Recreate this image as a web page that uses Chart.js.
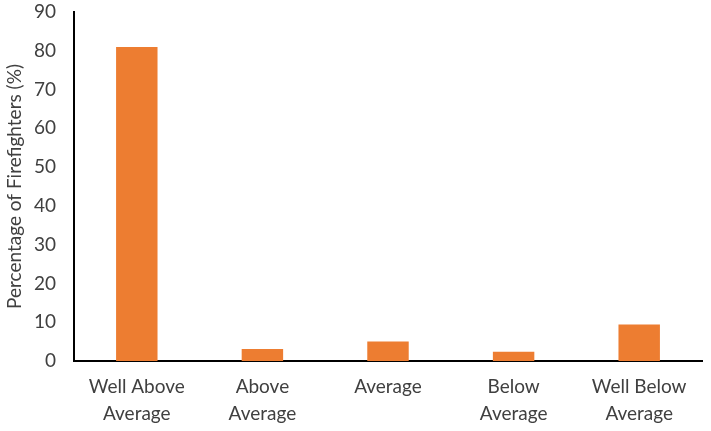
<!DOCTYPE html>
<html>
<head>
<meta charset="utf-8">
<script src="https://cdn.jsdelivr.net/npm/chart.js@4/dist/chart.umd.min.js"></script>
<style>
  html, body { margin: 0; padding: 0; background: #fff; }
  #wrap { width: 711px; height: 431px; position: relative; }
</style>
</head>
<body>
<div id="wrap"><canvas id="chart"></canvas></div>
<script>
// Data
const categories = [['Well Above', 'Average'], ['Above', 'Average'], 'Average', ['Below', 'Average'], ['Well Below', 'Average']];
const percentages = [81, 3.1, 5.0, 2.4, 9.4];
const yTitle = 'Percentage of Firefighters (%)';

const textColor = '#404040';
const fontFamily = 'Lato, "Open Sans", sans-serif';

new Chart(document.getElementById('chart'), {
    type: 'bar',
    data: {
        labels: categories,
        datasets: [{
            data: percentages,
            backgroundColor: '#ED7D31',
            barPercentage: 0.33,
            categoryPercentage: 1
        }]
    },
    options: {
        responsive: true,
        maintainAspectRatio: false,
        animation: false,
        layout: { padding: { top: 0, right: 9, left: 0, bottom: 0 } },
        plugins: {
            legend: { display: false },
            tooltip: { enabled: false }
        },
        scales: {
            x: {
                grid: { display: false },
                border: { display: true, color: '#000', width: 2 },
                ticks: {
                    color: textColor,
                    font: { family: fontFamily, size: 19, lineHeight: 1.4 },
                    padding: 5,
                    maxRotation: 0,
                    autoSkip: false
                },
                afterFit: (scale) => { scale.height = 70; }
            },
            y: {
                min: 0,
                max: 90,
                grid: { display: false },
                border: { display: true, color: '#000', width: 2 },
                ticks: {
                    stepSize: 10,
                    color: textColor,
                    font: { family: fontFamily, size: 19 },
                    padding: 10
                },
                title: {
                    display: true,
                    text: yTitle,
                    color: textColor,
                    font: { family: fontFamily, size: 19 },
                    padding: { top: 3, bottom: 0 }
                },
                afterFit: (scale) => {
                    scale.width = 74;
                    scale.paddingTop = 12;
                    scale.paddingBottom = 0;
                }
            }
        }
    }
});
</script>
</body>
</html>
